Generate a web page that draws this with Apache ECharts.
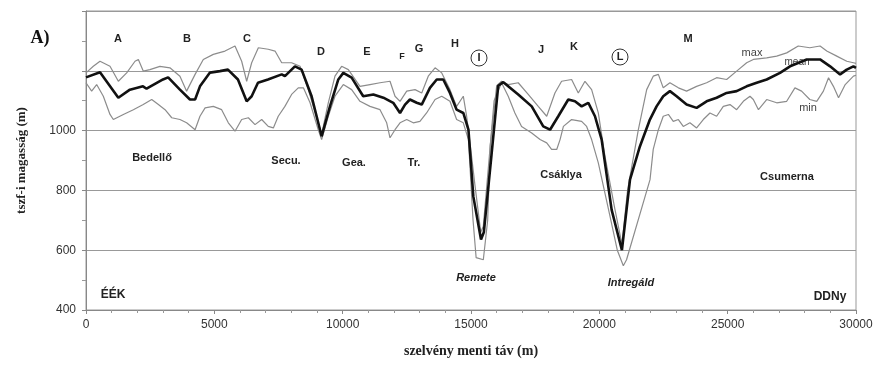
<!DOCTYPE html>
<html>
<head>
<meta charset="utf-8">
<script src="https://cdn.jsdelivr.net/npm/echarts@6/dist/echarts.min.js"></script>
<style>
html,body{margin:0;padding:0;background:#fff;}
#c{width:878px;height:372px;}
</style>
</head>
<body>
<div id="c"></div>
<script>
// ---- data (distance in m, elevation in m) ----
const meanDist = [0,545,1260,1710,2220,2360,3000,3200,3660,4050,4250,4440,4830,5220,5530,5920,6260,6455,6700,7090,7625,7750,8140,8400,8790,9180,9505,9830,10025,10350,10800,11195,11585,11970,12235,12430,12620,12885,13080,13400,13665,13920,14180,14440,14700,14900,15090,15390,15500,15800,16060,16260,16840,17365,17815,18080,18400,18790,19050,19310,19570,19830,20090,20480,20880,21195,21580,21970,22230,22490,22750,23010,23400,23790,24180,24570,24960,25350,25740,26130,26520,27040,27430,28080,28600,28990,29380,29640,29900,30000];
const meanVal  = [1178,1195,1110,1137,1148,1140,1171,1178,1137,1104,1104,1148,1194,1199,1204,1171,1098,1115,1160,1171,1188,1182,1215,1204,1115,981,1081,1171,1193,1177,1115,1121,1110,1093,1059,1087,1104,1093,1087,1143,1171,1171,1126,1070,1059,1003,780,636,660,920,1150,1162,1121,1081,1014,1003,1048,1104,1098,1081,1093,1048,970,735,600,836,947,1037,1081,1115,1132,1115,1087,1076,1098,1110,1126,1132,1148,1160,1171,1193,1215,1238,1238,1215,1188,1204,1215,1210];

const maxDist = [0,285,545,935,1260,1585,1910,2040,2230,2490,2880,3270,3660,3920,4250,4570,4960,5415,5805,6065,6260,6455,6715,7100,7365,7625,8010,8340,8660,9050,9180,9440,9700,9960,10220,10675,11065,11455,11845,12040,12235,12495,12820,13080,13335,13600,13860,14180,14440,14700,14830,14960,15150,15380,15480,15750,16000,16190,16450,16840,17230,17620,17950,18270,18530,18920,19180,19440,19700,19960,20220,20600,20880,21100,21520,21845,22100,22300,22490,22750,23080,23400,23790,24180,24570,24960,25350,25740,26000,26520,26910,27300,27750,28200,28600,28860,29250,29640,29900,30000];
const maxVal  = [1193,1215,1232,1215,1165,1193,1232,1238,1199,1204,1215,1210,1182,1132,1188,1238,1255,1266,1283,1232,1165,1227,1277,1272,1266,1227,1227,1215,1137,1026,987,1093,1182,1215,1204,1148,1154,1160,1165,1115,1098,1132,1137,1126,1182,1210,1193,1137,1081,1115,1048,960,820,660,680,950,1150,1165,1154,1160,1121,1081,1048,1126,1165,1171,1126,1165,1137,1059,914,740,620,800,1003,1137,1182,1188,1143,1160,1143,1132,1148,1160,1177,1171,1199,1227,1238,1243,1249,1260,1283,1277,1283,1266,1249,1232,1227,1225];

const minDist = [0,220,415,675,935,1065,1455,1845,2230,2560,2820,3080,3340,3660,3920,4250,4440,4640,4960,5285,5545,5805,6065,6325,6585,6845,7100,7300,7490,7750,8010,8270,8470,8730,9050,9180,9440,9700,10025,10350,10675,11065,11455,11715,11845,12040,12235,12495,12750,13010,13270,13600,13860,14180,14440,14700,14900,15080,15200,15480,15650,15750,15900,16190,16450,16710,16970,17365,17690,17950,18140,18340,18470,18600,18920,19310,19505,19700,19960,20400,20700,20935,21060,21975,22100,22300,22490,22690,22880,23080,23270,23530,23790,24050,24310,24570,24830,25090,25350,25610,25870,26000,26200,26520,26910,27300,27620,27880,28200,28470,28730,28930,29120,29320,29580,29900,30000];
const minVal  = [1160,1132,1154,1115,1054,1037,1054,1070,1087,1104,1087,1070,1043,1037,1026,1003,1048,1076,1081,1070,1026,998,1037,1043,1020,1037,1014,1009,1048,1081,1121,1143,1143,1093,1003,970,1048,1115,1154,1137,1098,1081,1070,1026,976,1003,1026,1037,1026,1031,1059,1104,1115,1098,1037,1026,970,700,575,568,700,950,1100,1160,1115,1059,1014,992,970,959,937,937,970,1014,1037,1031,1014,970,892,720,600,548,568,836,937,1003,1048,1054,1031,1037,1014,1026,1009,1037,1059,1048,1081,1087,1070,1098,1115,1104,1070,1104,1093,1098,1143,1132,1104,1098,1132,1177,1148,1110,1154,1182,1185];

const xTicks = [0,5000,10000,15000,20000,25000,30000];
const yTicks = [400,600,800,1000];

function pairs(xs, ys){ return xs.map((x,i)=>[x, ys[i]]); }

const chart = echarts.init(document.getElementById('c'), null, {renderer:'canvas'});

const txt = (x,y,t,o) => Object.assign({type:'text', x:x, y:y, style:Object.assign({text:t, fill:'#222', font:'bold 11px "Liberation Sans", Arial, sans-serif', textAlign:'center', textVerticalAlign:'middle'}, o||{})});

chart.setOption({
  animation:false,
  backgroundColor:'#fff',
  grid:{left:86, right:22, top:11, bottom:62, show:true, borderColor:'#999', borderWidth:1, backgroundColor:'transparent'},
  xAxis:{
    type:'value', min:0, max:30000, interval:5000,
    axisLine:{show:true, onZero:false, lineStyle:{color:'#888', width:1}},
    axisTick:{show:true, length:4, lineStyle:{color:'#888'}},
    minorTick:{show:true, splitNumber:5, length:3, lineStyle:{color:'#999'}},
    splitLine:{show:false},
    axisLabel:{color:'#333', fontSize:12, fontFamily:'"Liberation Sans", Arial, sans-serif', margin:9,
      formatter:v => xTicks.includes(v) ? String(v) : ''},
    name:'szelvény menti táv (m)', nameLocation:'middle', nameGap:34,
    nameTextStyle:{color:'#222', fontSize:14, fontWeight:'bold', fontFamily:'"Liberation Serif", "Times New Roman", serif'}
  },
  yAxis:{
    type:'value', min:400, max:1400, interval:200,
    axisLine:{show:true, lineStyle:{color:'#888', width:1}},
    axisTick:{show:true, length:4, lineStyle:{color:'#888'}},
    minorTick:{show:true, splitNumber:2, length:4, lineStyle:{color:'#999'}},
    splitLine:{show:true, lineStyle:{color:'#999', width:1}},
    axisLabel:{color:'#333', fontSize:12, fontFamily:'"Liberation Sans", Arial, sans-serif', margin:10,
      formatter:v => yTicks.includes(v) ? String(v) : ''},
    name:'tszf-i magasság (m)', nameLocation:'middle', nameGap:58,
    nameTextStyle:{color:'#222', fontSize:13, fontWeight:'bold', fontFamily:'"Liberation Serif", "Times New Roman", serif'}
  },
  series:[
    {name:'max', type:'line', data:pairs(maxDist,maxVal), showSymbol:false, lineStyle:{color:'#8c8c8c', width:1.2}, z:2},
    {name:'min', type:'line', data:pairs(minDist,minVal), showSymbol:false, lineStyle:{color:'#8c8c8c', width:1.2}, z:2},
    {name:'mean', type:'line', data:pairs(meanDist,meanVal), showSymbol:false, lineStyle:{color:'#111', width:2.6}, z:3}
  ],
  graphic:[
    txt(40,38,'A)',{font:'bold 18px "Liberation Serif", "Times New Roman", serif', fill:'#111'}),
    txt(118,39,'A'), txt(187,39,'B'), txt(247,39,'C'), txt(321,52,'D'), txt(367,52,'E'),
    txt(402,57,'F',{font:'bold 9px "Liberation Sans", Arial, sans-serif'}), txt(419,49,'G'), txt(455,44,'H'),
    txt(479,58,'I'), {type:'circle', shape:{cx:479, cy:58, r:8}, style:{fill:'none', stroke:'#333', lineWidth:1}},
    txt(541,50,'J'), txt(574,47,'K'),
    txt(620,57,'L'), {type:'circle', shape:{cx:620, cy:57, r:8}, style:{fill:'none', stroke:'#333', lineWidth:1}},
    txt(688,39,'M'),
    txt(752,53,'max',{font:'11px "Liberation Sans", Arial, sans-serif', fill:'#444'}),
    txt(797,62,'mean',{font:'10px "Liberation Sans", Arial, sans-serif', fill:'#444'}),
    txt(808,108,'min',{font:'11px "Liberation Sans", Arial, sans-serif', fill:'#444'}),
    txt(152,158,'Bedellő'), txt(286,161,'Secu.'), txt(354,163,'Gea.'), txt(414,163,'Tr.'),
    txt(561,175,'Csáklya'), txt(787,177,'Csumerna'),
    txt(476,278,'Remete',{font:'italic bold 11px "Liberation Sans", Arial, sans-serif'}),
    txt(631,283,'Intregáld',{font:'italic bold 11px "Liberation Sans", Arial, sans-serif'}),
    txt(113,295,'ÉÉK',{font:'bold 12px "Liberation Sans", Arial, sans-serif'}),
    txt(830,297,'DDNy',{font:'bold 12px "Liberation Sans", Arial, sans-serif'})
  ]
});
</script>
</body>
</html>
